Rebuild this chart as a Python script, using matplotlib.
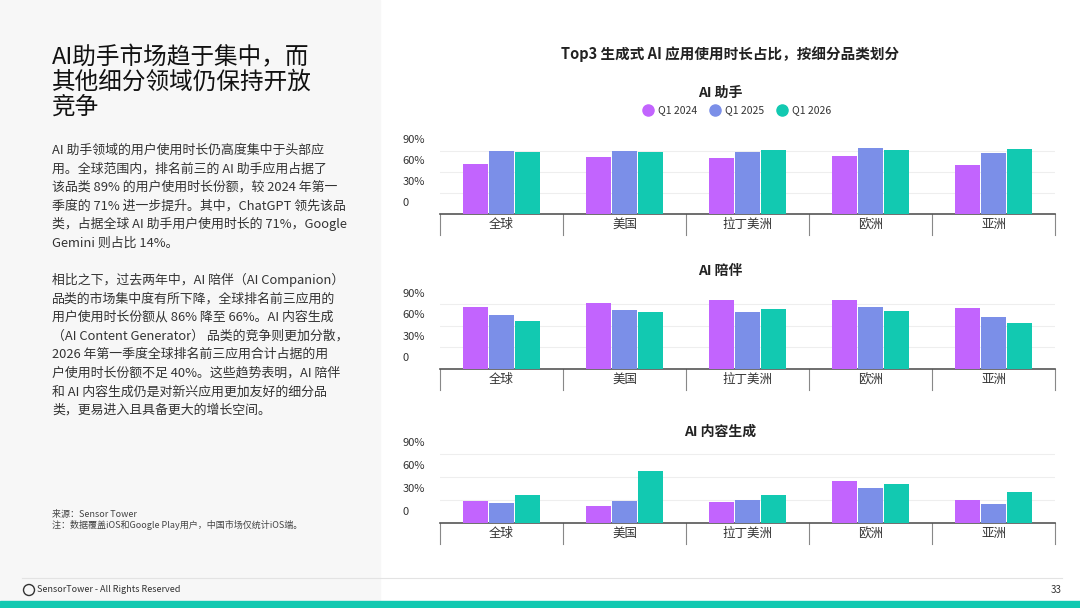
import numpy as np
import matplotlib.pyplot as plt
from matplotlib.patches import Rectangle, Ellipse
from matplotlib.lines import Line2D

plt.rcParams['font.family'] = ['Noto Sans CJK SC', 'DejaVu Sans']

regions = ['全球', '美国', '拉丁美洲', '欧洲', '亚洲']
series = ['Q1 2024', 'Q1 2025', 'Q1 2026']
colors = ['#C264FE', '#7B8FE8', '#12C9B1']
assistant = [[71, 81, 80, 83, 70], [90, 90, 89, 94, 87], [89, 89, 91, 91, 93]]
companion = [[86, 92, 96, 96, 85], [75, 82, 79, 86, 72], [67, 79, 83, 81, 64]]
generator = [[29, 22, 27, 55, 30], [26, 29, 30, 46, 25], [37, 67, 37, 51, 40]]
yticks = [0, 30, 60, 90]
ytick_labels = ['0', '30%', '60%', '90%']

W, H = 1080, 608
fig = plt.figure(figsize=(W / 100, H / 100), dpi=100)
fig.patches.append(Rectangle((0, 0), 380 / W, 1, transform=fig.transFigure, color='#F7F7F7', zorder=0))
fig.patches.append(Rectangle((0, 0), 1, 7 / H, transform=fig.transFigure, color='#12C9B1', zorder=0))
fig.add_artist(Line2D([22 / W, 1062 / W], [1 - 578 / H] * 2, color='#E3E3E3', lw=0.8))

def ft(x, y, s, **kw):
    fig.text(x / W, 1 - y / H, s, **kw)

ft(52, 82, 'AI助手市场趋于集中，而\n其他细分领域仍保持开放\n竞争', fontsize=17, va='center', linespacing=1.1, color='#111111')
body = ['AI 助手领域的用户使用时长仍高度集中于头部应',
        '用。全球范围内，排名前三的 AI 助手应用占据了',
        '该品类 89% 的用户使用时长份额，较 2024 年第一',
        '季度的 71% 进一步提升。其中，ChatGPT 领先该品',
        '类，占据全球 AI 助手用户使用时长的 71%，Google',
        'Gemini 则占比 14%。', '',
        '相比之下，过去两年中，AI 陪伴（AI Companion）',
        '品类的市场集中度有所下降，全球排名前三应用的',
        '用户使用时长份额从 86% 降至 66%。AI 内容生成',
        '（AI Content Generator） 品类的竞争则更加分散，',
        '2026 年第一季度全球排名前三应用合计占据的用',
        '户使用时长份额不足 40%。这些趋势表明，AI 陪伴',
        '和 AI 内容生成仍是对新兴应用更加友好的细分品',
        '类，更易进入且具备更大的增长空间。']
for i, line in enumerate(body):
    ft(52, 150 + i * 18.6, line, fontsize=9.3, va='center', color='#333333')
ft(52, 514, '来源：Sensor Tower', fontsize=6.5, va='center', color='#444444')
ft(52, 525, '注：数据覆盖iOS和Google Play用户，中国市场仅统计iOS端。', fontsize=6.5, va='center', color='#444444')
fig.patches.append(Ellipse((29 / W, 1 - 590 / H), 11 / W, 11 / H, transform=fig.transFigure,
                           fill=False, ec='#333333', lw=1))
ft(37, 590, 'SensorTower - All Rights Reserved', fontsize=6.5, va='center', color='#333333')
ft(1062, 590, '33', fontsize=7, va='center', ha='right', color='#333333')

ft(730, 54, 'Top3 生成式 AI 应用使用时长占比，按细分品类划分', fontsize=10.5, ha='center', va='center', weight='bold', color='#222222')

# legend
lx = 648
for s, c in zip(series, colors):
    fig.add_artist(Line2D([lx / W], [1 - 110 / H], marker='o', ms=8, color=c, transform=fig.transFigure))
    ft(lx + 10, 110, s, fontsize=7.5, va='center', color='#333333')
    lx += 67

panels = [('AI 助手', assistant, 93, 144, 214),
          ('AI 陪伴', companion, 271, 297, 369),
          ('AI 内容生成', generator, 432, 446, 523)]
x = np.arange(len(regions))
bw = 0.2
for title, data, ty, top, bot in panels:
    ft(720, ty, title, fontsize=10, ha='center', va='center', weight='bold', color='#222222')
    ax = fig.add_axes([440 / W, 1 - bot / H, 615 / W, (bot - top) / H])
    for k in range(3):
        ax.bar(x + (k - 1) * (bw + 0.012), data[k], bw, color=colors[k], zorder=3)
    ax.set_xlim(-0.5, len(regions) - 0.5)
    ax.set_ylim(0, 100)
    for t, lab in zip(yticks, ytick_labels):
        if t > 0:
            ax.axhline(t, color='#EEEEEE', lw=0.8, zorder=1)
        ax.annotate(lab, (-0.5, t), xytext=(-27, 4), textcoords='offset points',
                    fontsize=8, va='bottom', ha='left', color='#333333', annotation_clip=False)
    for s in ['top', 'right', 'left']:
        ax.spines[s].set_visible(False)
    ax.spines['bottom'].set_color('#555555')
    ax.spines['bottom'].set_linewidth(1.2)
    ax.set_yticks([])
    ax.set_xticks(x)
    ax.set_xticklabels(regions, fontsize=9, color='#333333')
    ax.tick_params(axis='x', length=0, pad=3)
    trans = ax.get_xaxis_transform()
    for b in np.arange(-0.5, len(regions), 1.0):
        ax.plot([b, b], [0, -0.3 * 70 / (bot - top)], color='#888888', lw=0.8,
                transform=trans, clip_on=False)

fig.savefig('out.png', dpi=100)
